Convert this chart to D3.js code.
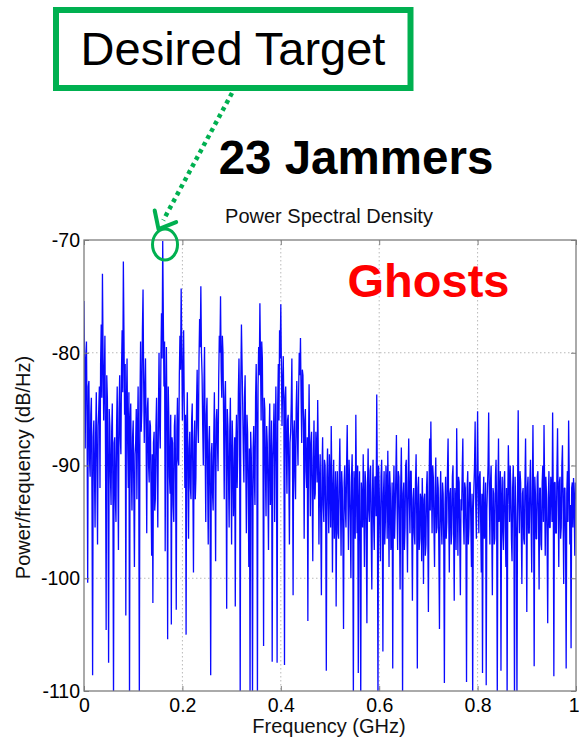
<!DOCTYPE html>
<html>
<head>
<meta charset="utf-8">
<script src="https://cdn.jsdelivr.net/npm/d3@7"></script>
<style>
  html, body { margin: 0; padding: 0; background: #ffffff; }
  svg { display: block; font-family: "Liberation Sans", Arial, Helvetica, sans-serif; }
</style>
</head>
<body>
<svg id="chart" width="579" height="740"></svg>
<script>
// Power spectral density (dB/Hz), sampled every 1.25 MHz from 0 to 1 GHz.
const freqStepGHz = 0.00125;

const psd0to02 = [
  -75.4, -81.0, -88.5, -80.5, -79.0, -86.5, -100.4, -83.0, -82.5, -89.5,
  -91.0, -85.5, -84.0, -93.0, -108.6, -87.5, -86.0, -90.5, -95.5, -87.0,
  -83.5, -90.0, -97.0, -86.5, -85.0, -83.0, -92.0, -81.0, -77.5, -84.0,
  -73.0, -80.0, -86.0, -82.5, -78.5, -89.0, -104.6, -82.0, -84.0, -91.5,
  -107.5, -85.0, -86.5, -91.0, -93.5, -87.0, -84.5, -92.5, -111.0, -88.0,
  -87.5, -93.0, -95.0, -86.5, -83.0, -90.0, -97.5, -85.0, -82.0, -87.5,
  -89.0, -81.5, -78.0, -83.5, -71.9, -78.5, -85.5, -81.0, -103.3, -84.5,
  -80.5, -88.0, -92.0, -83.5, -111.0, -86.0, -84.5, -90.5, -94.0, -87.5,
  -86.0, -92.5, -99.0, -89.0, -88.0, -85.0, -93.0, -87.0, -83.0, -90.0,
  -111.0, -84.5, -79.0, -87.0, -85.0, -78.0, -74.4, -82.5, -88.0, -83.0,
  -80.5, -87.5, -96.0, -85.0, -84.0, -90.0, -91.5, -86.0, -86.5, -92.5,
  -98.0, -89.0, -102.2, -88.0, -87.0, -94.0, -93.0, -86.5, -84.0, -90.5,
  -95.5, -85.5, -80.0, -86.5, -88.5, -81.0, -76.5, -80.5, -70.1, -77.0,
  -83.0, -79.0, -97.6, -84.5, -79.5, -87.0, -105.4, -83.0, -86.0, -91.0,
  -92.5, -85.5, -104.1, -87.5, -88.0, -93.5, -95.0, -86.5, -85.5, -91.5,
  -102.8, -87.0, -84.0, -89.5, -90.0, -82.0, -78.5, -81.5, -74.3, -79.5
];
const psd02to04 = [
  -86.0, -82.0, -78.0, -84.5, -92.0, -85.5, -105.0, -87.0, -83.5, -90.5,
  -96.5, -88.5, -87.0, -92.0, -93.0, -86.0, -84.5, -91.5, -99.5, -88.0,
  -86.0, -93.0, -91.0, -84.5, -81.5, -86.5, -88.0, -80.5, -77.0, -79.5,
  -74.1, -80.0, -82.0, -86.5, -90.0, -83.0, -79.5, -88.5, -95.0, -85.5,
  -84.0, -91.0, -97.0, -88.0, -86.5, -93.5, -108.6, -89.0, -88.0, -92.5,
  -94.0, -87.5, -83.5, -90.0, -98.5, -86.0, -85.0, -88.0, -90.5, -82.5,
  -78.5, -80.0, -75.0, -81.5, -84.0, -78.5, -80.0, -86.0, -93.0, -84.0,
  -82.5, -88.5, -102.7, -85.0, -86.5, -91.0, -95.5, -87.0, -84.0, -90.5,
  -97.0, -86.0, -88.5, -94.5, -92.0, -87.5, -102.5, -88.0, -85.5, -92.0,
  -89.0, -83.5, -80.5, -86.0, -111.0, -82.5, -77.5, -81.0, -84.5, -88.5,
  -91.5, -84.0, -82.0, -89.5, -96.0, -85.5, -87.0, -92.0, -99.0, -88.5,
  -111.0, -87.0, -89.0, -93.0, -111.0, -88.5, -86.5, -91.0, -93.5, -84.0,
  -81.0, -86.5, -111.0, -83.0, -79.5, -82.0, -75.6, -80.5, -86.0, -79.0,
  -80.5, -87.5, -106.0, -84.0, -85.0, -90.5, -94.5, -86.5, -88.0, -92.0,
  -97.5, -87.5, -84.5, -93.5, -91.0, -86.0, -107.4, -89.5, -87.5, -84.5,
  -95.0, -88.0, -83.0, -90.0, -107.5, -84.5, -81.0, -86.0, -78.0, -80.5
];
const psd04to06 = [
  -75.7, -81.5, -86.5, -82.5, -80.3, -85.0, -107.7, -84.0, -83.0, -88.5,
  -92.5, -86.0, -85.5, -90.5, -97.0, -88.0, -87.0, -84.5, -80.5, -88.5,
  -101.5, -87.0, -86.0, -91.0, -93.0, -85.0, -82.5, -87.5, -90.0, -83.5,
  -80.0, -82.0, -78.7, -84.0, -88.0, -81.5, -82.0, -87.0, -96.5, -86.0,
  -85.0, -90.5, -92.0, -87.5, -103.8, -88.5, -82.8, -89.0, -94.5, -88.0,
  -87.0, -92.5, -98.5, -89.5, -86.0, -93.0, -92.5, -87.0, -88.5, -91.5,
  -84.2, -89.0, -97.0, -91.5, -89.0, -95.0, -101.5, -90.5, -87.5, -93.5,
  -95.0, -89.5, -90.0, -94.5, -108.2, -91.0, -88.5, -93.0, -96.0, -89.0,
  -91.0, -95.5, -86.5, -91.5, -99.5, -92.0, -89.5, -96.5, -94.0, -90.5,
  -102.5, -92.5, -90.5, -96.0, -96.5, -91.0, -87.6, -93.0, -98.0, -90.5,
  -92.0, -96.5, -104.5, -91.5, -90.0, -94.0, -95.5, -90.0, -86.4, -92.5,
  -97.5, -89.5, -91.5, -95.0, -100.0, -91.0, -89.0, -94.5, -111.0, -90.5,
  -92.5, -96.5, -85.5, -92.0, -96.0, -90.0, -108.4, -93.5, -90.5, -97.0,
  -111.0, -91.5, -93.0, -95.5, -89.0, -93.5, -99.0, -90.5, -91.5, -96.5,
  -104.0, -92.0, -88.5, -94.0, -95.0, -90.5, -90.0, -96.0, -101.0, -92.5,
  -89.5, -95.0, -97.5, -91.0, -91.0, -94.5, -83.7, -92.0, -111.0, -90.0
];
const psd06to08 = [
  -92.0, -95.5, -98.5, -91.0, -89.5, -94.0, -106.5, -92.5, -90.5, -97.0,
  -95.0, -90.0, -91.5, -96.5, -88.7, -93.0, -99.0, -90.5, -92.0, -97.5,
  -96.5, -91.5, -108.0, -93.5, -90.0, -96.5, -94.0, -91.0, -87.3, -93.5,
  -97.5, -90.5, -91.0, -95.0, -101.0, -92.0, -88.4, -94.0, -111.0, -92.5,
  -91.5, -97.5, -95.5, -90.0, -89.5, -94.5, -99.5, -91.5, -87.6, -93.0,
  -96.0, -90.5, -90.5, -95.5, -102.0, -93.0, -92.0, -96.0, -97.0, -91.5,
  -89.0, -94.5, -108.0, -92.0, -91.0, -97.5, -96.5, -92.5, -93.0, -98.5,
  -91.1, -94.0, -100.5, -93.0, -92.5, -98.0, -97.0, -92.0, -90.5, -95.5,
  -103.0, -92.5, -87.6, -94.0, -86.1, -91.5, -96.0, -90.0, -91.0, -95.5,
  -99.0, -92.0, -89.3, -96.0, -95.5, -91.0, -92.0, -97.5, -104.5, -93.0,
  -90.5, -95.0, -97.0, -91.5, -92.5, -97.0, -109.3, -93.5, -91.0, -96.5,
  -95.0, -90.5, -87.6, -94.0, -99.5, -92.5, -92.0, -97.0, -96.0, -91.0,
  -90.0, -95.5, -102.0, -92.0, -93.5, -97.5, -86.7, -92.5, -98.0, -91.0,
  -91.5, -96.5, -101.5, -93.0, -94.0, -90.5, -87.6, -95.0, -97.0, -91.5,
  -92.0, -96.0, -109.2, -92.0, -90.5, -97.0, -95.5, -91.5, -91.5, -95.0,
  -99.0, -92.5, -111.0, -94.0, -92.0, -90.0, -86.1, -93.5, -96.5, -91.0
];
const psd08to1 = [
  -85.2, -92.0, -96.0, -91.0, -90.5, -95.0, -99.5, -92.5, -108.4, -93.0,
  -91.0, -96.5, -95.5, -91.5, -109.5, -94.0, -92.0, -90.0, -85.3, -92.5,
  -97.0, -91.5, -90.0, -95.5, -101.5, -92.0, -92.5, -97.0, -96.5, -91.0,
  -89.5, -94.5, -111.0, -92.5, -87.6, -95.0, -93.0, -90.5, -108.2, -93.0,
  -91.0, -96.0, -97.5, -91.5, -90.5, -95.5, -99.0, -92.0, -111.0, -93.5,
  -88.2, -91.5, -95.0, -90.0, -92.0, -96.5, -98.5, -92.0, -90.0, -95.0,
  -111.0, -91.0, -93.5, -96.5, -111.0, -92.0, -85.1, -93.0, -96.0, -90.5,
  -91.5, -95.5, -100.5, -92.5, -92.0, -96.5, -97.0, -91.5, -87.6, -94.0,
  -103.0, -92.0, -91.0, -96.0, -96.0, -91.5, -89.5, -95.0, -99.5, -92.5,
  -86.4, -93.5, -107.8, -91.0, -92.5, -96.5, -96.5, -91.0, -90.5, -94.5,
  -101.0, -92.0, -92.0, -97.0, -97.5, -91.5, -90.0, -95.0, -86.4, -92.0,
  -98.0, -91.0, -92.5, -96.5, -104.0, -93.0, -90.5, -95.5, -95.5, -91.0,
  -92.0, -95.0, -85.3, -92.5, -108.7, -91.5, -91.5, -96.0, -96.0, -90.5,
  -86.7, -93.0, -99.0, -91.5, -91.0, -96.5, -95.5, -90.0, -88.2, -94.0,
  -100.5, -92.0, -92.0, -96.5, -108.0, -92.5, -90.5, -95.0, -86.0, -91.0,
  -97.0, -93.5, -106.2, -92.0, -91.5, -95.5, -91.1, -93.0, -98.0, -91.5,
  -93.0
];

const xTickValues = [0, 0.2, 0.4, 0.6, 0.8, 1];
const xTickLabels = ["0", "0.2", "0.4", "0.6", "0.8", "1"];
const yTickValues = [-110, -100, -90, -80, -70];
const yTickLabels = ["-110", "-100", "-90", "-80", "-70"];

// The spectral line the annotation points at (0.16 GHz)
const targetIndex = 128;

const psd = [].concat(psd0to02, psd02to04, psd04to06, psd06to08, psd08to1);
const points = psd.map((db, i) => ({ f: i * freqStepGHz, db }));

const svg = d3.select("#chart");
const plot = { left: 84, right: 576, top: 240, bottom: 691 };
const x = d3.scaleLinear().domain([0, 1]).range([plot.left, plot.right]);
const y = d3.scaleLinear().domain([-110, -70]).range([plot.bottom, plot.top]);

const frameColor = "#7d7d7d";
const gridColor = "#b9b9b9";
const green = "#00b050";

// Dotted grid
const grid = svg.append("g");
grid.selectAll("line.gx")
  .data(xTickValues.filter(v => v > 0 && v < 1))
  .join("line")
  .attr("x1", d => x(d)).attr("x2", d => x(d))
  .attr("y1", plot.top).attr("y2", plot.bottom)
  .attr("stroke", gridColor).attr("stroke-width", 1)
  .attr("stroke-dasharray", "1.5,2.5");
grid.selectAll("line.gy")
  .data(yTickValues.filter(v => v > -110 && v < -70))
  .join("line")
  .attr("x1", plot.left).attr("x2", plot.right)
  .attr("y1", d => y(d)).attr("y2", d => y(d))
  .attr("stroke", gridColor).attr("stroke-width", 1)
  .attr("stroke-dasharray", "1.5,2.5");

// Spectrum trace
svg.append("clipPath").attr("id", "plotClip")
  .append("rect")
  .attr("x", plot.left).attr("y", plot.top)
  .attr("width", plot.right - plot.left).attr("height", plot.bottom - plot.top);

svg.append("path")
  .datum(points)
  .attr("clip-path", "url(#plotClip)")
  .attr("fill", "none")
  .attr("stroke", "#0a0aff")
  .attr("stroke-width", 1.3)
  .attr("stroke-linejoin", "bevel")
  .attr("d", d3.line().x(d => x(d.f)).y(d => y(d.db)));

// Axes with inward ticks on all four sides
function styleAxis(g) {
  g.select(".domain").remove();
  g.selectAll(".tick line").attr("stroke", frameColor);
  g.selectAll(".tick text")
    .attr("fill", "#000")
    .style("font-size", "19.5px")
    .style("font-family", "'Liberation Sans', Arial, Helvetica, sans-serif");
}

const xAxisG = svg.append("g")
  .attr("transform", `translate(0,${plot.bottom})`)
  .call(d3.axisBottom(x).tickValues(xTickValues)
    .tickFormat((d, i) => xTickLabels[i]).tickSizeInner(-5).tickSizeOuter(0).tickPadding(7))
  .call(styleAxis);
// keep the last label inside the page edge
xAxisG.selectAll(".tick text")
  .filter((d, i) => i === xTickValues.length - 1)
  .attr("text-anchor", "end")
  .attr("x", 579 - plot.right);

svg.append("g")
  .attr("transform", `translate(0,${plot.top})`)
  .call(d3.axisTop(x).tickValues(xTickValues).tickFormat("").tickSizeInner(-5).tickSizeOuter(0))
  .call(styleAxis);
svg.append("g")
  .attr("transform", `translate(${plot.left},0)`)
  .call(d3.axisLeft(y).tickValues(yTickValues)
    .tickFormat((d, i) => yTickLabels[i]).tickSizeInner(-5).tickSizeOuter(0).tickPadding(4))
  .call(styleAxis);
svg.append("g")
  .attr("transform", `translate(${plot.right},0)`)
  .call(d3.axisRight(y).tickValues(yTickValues).tickFormat("").tickSizeInner(-5).tickSizeOuter(0))
  .call(styleAxis);

// Axes box
svg.append("rect")
  .attr("x", plot.left).attr("y", plot.top)
  .attr("width", plot.right - plot.left).attr("height", plot.bottom - plot.top)
  .attr("fill", "none").attr("stroke", frameColor).attr("stroke-width", 1.3);

// Title and axis labels
svg.append("text")
  .attr("x", 329).attr("y", 223)
  .attr("text-anchor", "middle")
  .style("font-size", "20px").attr("fill", "#111")
  .text("Power Spectral Density");
svg.append("text")
  .attr("x", 329).attr("y", 733)
  .attr("text-anchor", "middle")
  .style("font-size", "20px").attr("fill", "#111")
  .text("Frequency (GHz)");
svg.append("text")
  .attr("transform", `translate(30,${(plot.top + plot.bottom) / 2 + 2}) rotate(-90)`)
  .attr("text-anchor", "middle")
  .style("font-size", "20px").attr("fill", "#111")
  .text("Power/frequency (dB/Hz)");

// Annotations
svg.append("text")
  .attr("x", 356).attr("y", 174)
  .attr("text-anchor", "middle")
  .style("font-size", "47.5px").style("font-weight", "bold").attr("fill", "#000")
  .text("23 Jammers");

svg.append("text")
  .attr("x", 428.5).attr("y", 297)
  .attr("text-anchor", "middle")
  .style("font-size", "47px").style("font-weight", "bold").attr("fill", "#ff0000")
  .text("Ghosts");

svg.append("rect")
  .attr("x", 56).attr("y", 10).attr("width", 354.5).attr("height", 78)
  .attr("fill", "#fff").attr("stroke", green).attr("stroke-width", 6);
svg.append("text")
  .attr("x", 233).attr("y", 65)
  .attr("text-anchor", "middle")
  .style("font-size", "47px").attr("fill", "#000")
  .text("Desired Target");

// Arrow from the label down to the target line, plus a ring around its peak
const tx = x(points[targetIndex].f);
const ty = y(points[targetIndex].db);
const tip = [tx - 4.2, ty - 12];
const start = [232, 93];
const dxA = tip[0] - start[0], dyA = tip[1] - start[1];
const lenA = Math.hypot(dxA, dyA);
const ux = dxA / lenA, uy = dyA / lenA;

svg.append("line")
  .attr("x1", start[0]).attr("y1", start[1])
  .attr("x2", tip[0] - ux * 10).attr("y2", tip[1] - uy * 10)
  .attr("stroke", green).attr("stroke-width", 4.5)
  .attr("stroke-dasharray", "4,4");

const headLen = 19, headAng = 40 * Math.PI / 180;
const back = Math.atan2(-uy, -ux);
const arm = a => [tip[0] + headLen * Math.cos(back + a), tip[1] + headLen * Math.sin(back + a)];
const a1 = arm(headAng), a2 = arm(-headAng);
svg.append("path")
  .attr("d", `M${a1[0]},${a1[1]}L${tip[0]},${tip[1]}L${a2[0]},${a2[1]}`)
  .attr("fill", "none").attr("stroke", green).attr("stroke-width", 4)
  .attr("stroke-linecap", "round").attr("stroke-linejoin", "round");

svg.append("ellipse")
  .attr("cx", tx + 2.3).attr("cy", ty + 3.4)
  .attr("rx", 12.5).attr("ry", 15.5)
  .attr("fill", "none").attr("stroke", green).attr("stroke-width", 3);
</script>
</body>
</html>
